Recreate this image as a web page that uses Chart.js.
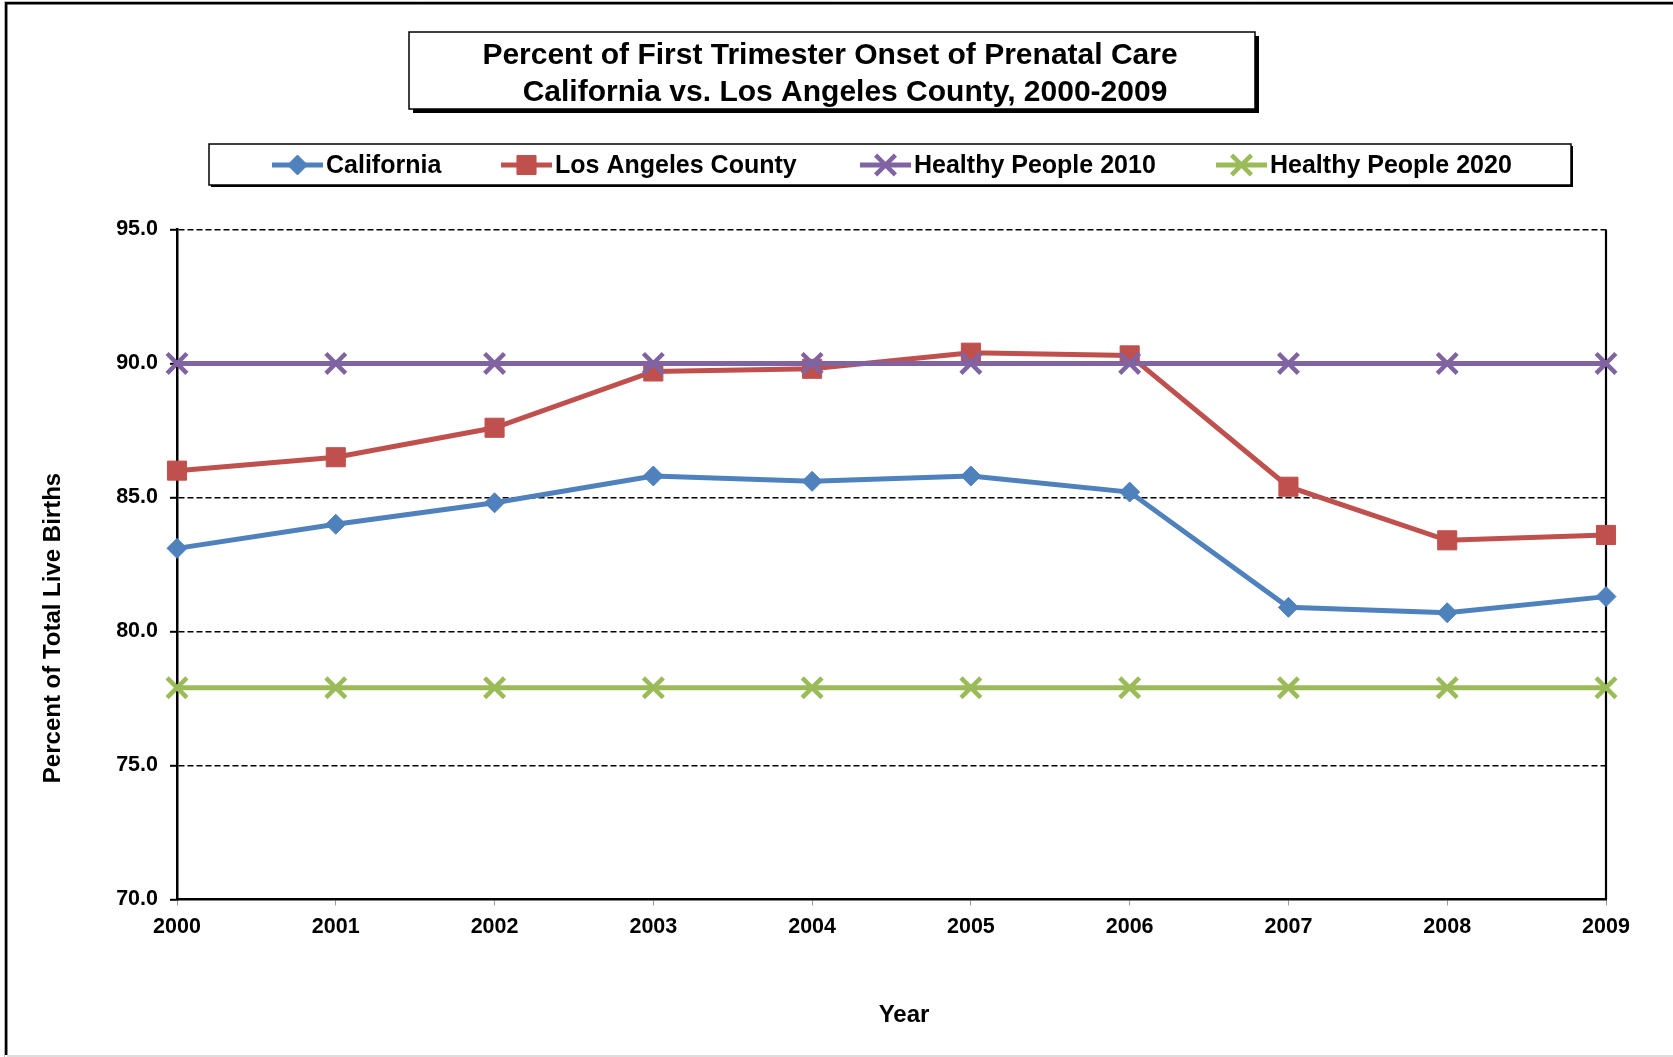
<!DOCTYPE html>
<html>
<head>
<meta charset="utf-8">
<title>Percent of First Trimester Onset of Prenatal Care</title>
<script src="https://cdn.jsdelivr.net/npm/chart.js@4.4.1/dist/chart.umd.min.js"></script>
<style>
  html, body { margin: 0; padding: 0; background: #fff; }
  #wrap { width: 1673px; height: 1057px; position: relative; }
</style>
</head>
<body>
<div id="wrap"><canvas id="chart" width="1673" height="1057"></canvas></div>
<script>
// chart data
var years = ['2000', '2001', '2002', '2003', '2004', '2005', '2006', '2007', '2008', '2009'];
var california = [83.1, 84.0, 84.8, 85.8, 85.6, 85.8, 85.2, 80.9, 80.7, 81.3];
var losAngeles = [86.0, 86.5, 87.6, 89.7, 89.8, 90.4, 90.3, 85.4, 83.4, 83.6];
var healthy2010 = [90.0, 90.0, 90.0, 90.0, 90.0, 90.0, 90.0, 90.0, 90.0, 90.0];
var healthy2020 = [77.9, 77.9, 77.9, 77.9, 77.9, 77.9, 77.9, 77.9, 77.9, 77.9];
var yMin = 70, yMax = 95, yStep = 5;

var titleLines = ['Percent of First Trimester Onset of Prenatal Care', 'California vs. Los Angeles County, 2000-2009'];
var FONT = '"Liberation Sans", Arial, Helvetica, sans-serif';

function series(label, data, color, style, radius, bw, order) {
    return {
        label: label,
        data: data,
        borderColor: color,
        backgroundColor: color,
        borderWidth: 5,
        tension: 0,
        pointStyle: style,
        pointRadius: radius,
        pointHoverRadius: radius,
        pointBackgroundColor: color,
        pointBorderColor: color,
        pointBorderWidth: bw,
        order: order,
        clip: false
    };
}

// frame, title box, legend box and axis titles
var decor = {
    id: 'decor',
    beforeDraw: function (chart) {
        var ctx = chart.ctx;
        ctx.save();
        ctx.fillStyle = '#fff';
        ctx.fillRect(0, 0, chart.width, chart.height);
        // outer frame
        ctx.strokeStyle = '#bbb';
        ctx.lineWidth = 1;
        ctx.beginPath();
        ctx.moveTo(4.5, 1057); ctx.lineTo(4.5, 1.5); ctx.lineTo(1673, 1.5);
        ctx.stroke();
        ctx.strokeStyle = '#000';
        ctx.lineWidth = 2.5;
        ctx.beginPath();
        ctx.moveTo(6.2, 1055); ctx.lineTo(6.2, 3.3); ctx.lineTo(1673, 3.3);
        ctx.stroke();
        ctx.strokeStyle = '#ddd';
        ctx.lineWidth = 2;
        ctx.beginPath();
        ctx.moveTo(7, 1056); ctx.lineTo(1673, 1056);
        ctx.stroke();
        ctx.restore();
    },
    beforeDatasetsDraw: function (chart) {
        var ctx = chart.ctx, a = chart.chartArea;
        ctx.save();
        ctx.strokeStyle = '#000';
        ctx.lineWidth = 2.2;
        ctx.beginPath();
        ctx.moveTo(a.right, a.top);
        ctx.lineTo(a.right, a.bottom);
        ctx.stroke();
        ctx.restore();
    },
    afterDraw: function (chart) {
        var ctx = chart.ctx;
        ctx.save();

        // title box with shadow
        ctx.fillStyle = '#000';
        ctx.fillRect(413, 36, 846, 77);
        ctx.fillStyle = '#fff';
        ctx.fillRect(409, 32, 846, 77);
        ctx.strokeStyle = '#000';
        ctx.lineWidth = 1.5;
        ctx.strokeRect(409, 32, 846, 77);
        ctx.fillStyle = '#000';
        ctx.font = 'bold 30px ' + FONT;
        ctx.textAlign = 'center';
        ctx.textBaseline = 'middle';
        ctx.fillText(titleLines[0], 830, 56);
        ctx.fillText(titleLines[1], 845, 93);

        // legend box with shadow
        ctx.fillStyle = '#000';
        ctx.fillRect(211, 146, 1362, 41);
        ctx.fillStyle = '#fff';
        ctx.fillRect(209, 144, 1362, 41);
        ctx.strokeRect(209, 144, 1362, 41);

        var starts = [272, 501, 860, 1216];
        ctx.font = 'bold 25px ' + FONT;
        ctx.textAlign = 'left';
        chart.data.datasets.forEach(function (ds, i) {
            var x0 = starts[i], y = 165;
            ctx.strokeStyle = ds.borderColor;
            ctx.fillStyle = ds.borderColor;
            ctx.lineWidth = ds.borderWidth;
            ctx.beginPath();
            ctx.moveTo(x0, y);
            ctx.lineTo(x0 + 51, y);
            ctx.stroke();
            ctx.lineWidth = ds.pointBorderWidth;
            Chart.helpers.drawPoint(ctx, {
                pointStyle: ds.pointStyle,
                radius: ds.pointRadius,
                rotation: 0,
                borderWidth: ds.pointBorderWidth
            }, x0 + 25.5, y);
            ctx.fillStyle = '#000';
            ctx.fillText(ds.label, x0 + 54, y + 1);
        });

        // axis titles
        ctx.fillStyle = '#000';
        ctx.font = 'bold 24px ' + FONT;
        ctx.textAlign = 'center';
        ctx.fillText('Year', 904, 1015);
        ctx.translate(53, 628);
        ctx.rotate(-Math.PI / 2);
        ctx.fillText('Percent of Total Live Births', 0, 0);
        ctx.restore();
    }
};

var chart = new Chart(document.getElementById('chart'), {
    type: 'line',
    data: {
        labels: years,
        datasets: [
            series('California', california, '#4F81BD', 'rectRot', 10, 1, 4),
            series('Los Angeles County', losAngeles, '#C0504D', 'rect', 13.5, 1, 3),
            series('Healthy People 2010', healthy2010, '#8064A2', 'crossRot', 14, 4.5, 2),
            series('Healthy People 2020', healthy2020, '#9BBB59', 'crossRot', 14, 4.5, 1)
        ]
    },
    options: {
        responsive: false,
        animation: false,
        devicePixelRatio: 1,
        layout: {
            autoPadding: false,
            padding: { left: 0, top: 229.4, right: 67, bottom: 0 }
        },
        plugins: {
            legend: { display: false },
            title: { display: false },
            tooltip: { enabled: false }
        },
        scales: {
            x: {
                offset: false,
                afterFit: function (s) { s.height = 157.5; },
                grid: {
                    drawOnChartArea: false,
                    drawTicks: true,
                    tickLength: 6,
                    tickColor: '#999',
                    tickWidth: 1
                },
                border: { display: true, color: '#000', width: 2.5 },
                ticks: {
                    color: '#000',
                    padding: 9,
                    maxRotation: 0,
                    autoSkip: false,
                    font: { family: FONT, size: 21.5, weight: 'bold' }
                }
            },
            y: {
                min: yMin,
                max: yMax,
                afterFit: function (s) { s.width = 177; },
                grid: {
                    color: function (c) { return c.tick && c.tick.value === yMin ? 'rgba(0,0,0,0)' : '#000'; },
                    lineWidth: 1.6,
                    drawTicks: true,
                    tickLength: 7,
                    tickColor: '#000',
                    tickWidth: 2
                },
                border: { display: true, color: '#000', width: 2.5, dash: [6, 3] },
                ticks: {
                    stepSize: yStep,
                    color: '#000',
                    padding: 12,
                    font: { family: FONT, size: 21.5, weight: 'bold' },
                    callback: function (v) { return Number(v).toFixed(1); }
                }
            }
        }
    },
    plugins: [decor]
});
</script>
</body>
</html>
